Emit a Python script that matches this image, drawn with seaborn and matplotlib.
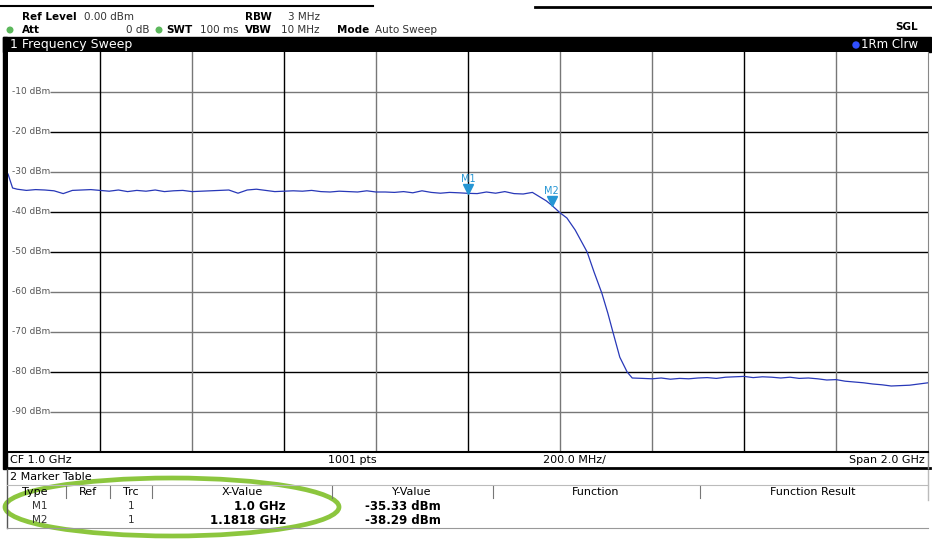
import matplotlib
matplotlib.use("Agg")
import matplotlib.pyplot as plt
from matplotlib.patches import Ellipse, Rectangle, Circle
import pandas as pd
import seaborn as sns

# trace (GHz, dBm)
freq_ghz = [0.00, 0.01, 0.02, 0.04, 0.06, 0.08, 0.10, 0.12, 0.14, 0.16,
            0.18, 0.20, 0.22, 0.24, 0.26, 0.28, 0.30, 0.32, 0.34, 0.36,
            0.38, 0.40, 0.42, 0.44, 0.46, 0.48, 0.50, 0.52, 0.54, 0.56,
            0.58, 0.60, 0.62, 0.64, 0.66, 0.68, 0.70, 0.72, 0.74, 0.76,
            0.78, 0.80, 0.82, 0.84, 0.86, 0.88, 0.90, 0.92, 0.94, 0.96,
            0.98, 1.00, 1.02, 1.04, 1.06, 1.08, 1.10, 1.12, 1.14, 1.16,
            1.17, 1.1818, 1.20, 1.215, 1.233, 1.259, 1.274, 1.291, 1.304, 1.315,
            1.330, 1.346, 1.357, 1.38, 1.40, 1.42, 1.44, 1.46, 1.48, 1.50,
            1.52, 1.54, 1.56, 1.58, 1.60, 1.62, 1.64, 1.66, 1.68, 1.70,
            1.72, 1.74, 1.76, 1.78, 1.80, 1.82, 1.84, 1.86, 1.88, 1.90,
            1.92, 1.94, 1.96, 1.98, 2.00]
level_dbm = [-30.5, -34.0, -34.3, -34.6, -34.4, -34.5, -34.7, -35.4, -34.6, -34.5,
             -34.4, -34.6, -34.8, -34.5, -34.9, -34.6, -34.8, -34.5, -34.9, -34.7,
             -34.6, -34.9, -34.8, -34.7, -34.6, -34.5, -35.3, -34.5, -34.3, -34.6,
             -34.9, -34.8, -34.7, -34.8, -34.6, -34.9, -35.0, -34.8, -34.9, -35.0,
             -34.7, -35.0, -35.0, -35.1, -34.9, -35.2, -34.7, -35.1, -35.3, -35.1,
             -35.2, -35.33, -35.4, -35.0, -35.3, -34.9, -35.4, -35.5, -35.1, -36.5,
             -37.2, -38.29, -40.2, -41.5, -44.5, -50.0, -55.0, -60.3, -65.3, -70.0,
             -76.3, -80.0, -81.5, -81.6, -81.7, -81.5, -81.8, -81.6, -81.7, -81.5,
             -81.4, -81.6, -81.3, -81.2, -81.1, -81.4, -81.2, -81.3, -81.5, -81.3,
             -81.6, -81.5, -81.7, -82.0, -81.9, -82.3, -82.5, -82.7, -83.0, -83.2,
             -83.5, -83.4, -83.3, -83.0, -82.7]

marker_names = ["M1", "M2"]
marker_freq = [1.0, 1.1818]
marker_level = [-35.33, -38.29]

ytick_vals = [-10, -20, -30, -40, -50, -60, -70, -80, -90]
ygrid_dark = [-20, -40, -50, -80]
xgrid_vals = [0.2, 0.4, 0.6, 0.8, 1.0, 1.2, 1.4, 1.6, 1.8]
xgrid_dark = [0.2, 0.6, 1.0, 1.6]

trace_col = "#2838b8"
mk_col = "#2596d4"

df = pd.DataFrame({"freq": freq_ghz, "level": level_dbm})

fig = plt.figure(figsize=(9.32, 5.47), dpi=100)
plt.rcParams['font.family'] = ['DejaVu Sans']

# full-figure pixel axes for the screen furniture
bg = fig.add_axes([0, 0, 1, 1])
bg.set_xlim(0, 932)
bg.set_ylim(547, 0)
bg.axis("off")

# header
hs = 7.5
bg.plot([0, 373], [6, 6], color="black", lw=1.5)
bg.plot([535, 932], [7, 7], color="black", lw=2)
bg.text(22, 17, "Ref Level", fontsize=hs, fontweight="bold", va="center")
bg.text(84, 17, "0.00 dBm", fontsize=hs, va="center", color="#333333")
bg.text(245, 17, "RBW", fontsize=hs, fontweight="bold", va="center")
bg.text(288, 17, "3 MHz", fontsize=hs, va="center", color="#333333")
bg.add_patch(Circle((10, 30), 2.8, color="#5cb85c"))
bg.text(22, 30, "Att", fontsize=hs, fontweight="bold", va="center")
bg.text(150, 30, "0 dB", fontsize=hs, va="center", ha="right", color="#333333")
bg.add_patch(Circle((159, 30), 2.8, color="#5cb85c"))
bg.text(166, 30, "SWT", fontsize=hs, fontweight="bold", va="center")
bg.text(200, 30, "100 ms", fontsize=hs, va="center", color="#333333")
bg.text(245, 30, "VBW", fontsize=hs, fontweight="bold", va="center")
bg.text(281, 30, "10 MHz", fontsize=hs, va="center", color="#333333")
bg.text(337, 30, "Mode", fontsize=hs, fontweight="bold", va="center")
bg.text(375, 30, "Auto Sweep", fontsize=hs, va="center", color="#333333")
bg.text(918, 27, "SGL", fontsize=7.5, fontweight="bold", va="center", ha="right")

# title bar
bg.add_patch(Rectangle((3, 37), 928, 15, color="black"))
bg.text(10, 44.5, "1 Frequency Sweep", fontsize=9, color="white", va="center")
bg.add_patch(Circle((856, 45), 3, color="#3050ff"))
bg.text(918, 44.5, "1Rm Clrw", fontsize=8.5, color="white", va="center", ha="right")

# left thick border
bg.add_patch(Rectangle((3, 37), 4, 432, color="black"))

# status row and marker table
bg.plot([7, 930], [468, 468], color="black", lw=2)
bg.plot([928, 928], [452, 468], color="#888888", lw=1)
bg.text(10, 460, "CF 1.0 GHz", fontsize=8, va="center")
bg.text(328, 460, "1001 pts", fontsize=8, va="center")
bg.text(543, 460, "200.0 MHz/", fontsize=8, va="center")
bg.text(925, 460, "Span 2.0 GHz", fontsize=8, va="center", ha="right")

bg.plot([7, 7], [469, 528], color="#555555", lw=1)
bg.plot([928, 928], [470, 500], color="#bbbbbb", lw=1)
bg.plot([7, 928], [485, 485], color="#bbbbbb", lw=0.8)
bg.plot([7, 928], [528, 528], color="#999999", lw=0.8)
bg.text(10, 477, "2 Marker Table", fontsize=8, va="center")
for xs in [66, 110, 152, 332, 493, 700]:
    bg.plot([xs, xs], [486, 498], color="#777777", lw=0.8)
headers = [("Type", 35), ("Ref", 88), ("Trc", 131), ("X-Value", 242),
           ("Y-Value", 412), ("Function", 596), ("Function Result", 813)]
for label, xc in headers:
    bg.text(xc, 492, label, fontsize=8, va="center", ha="center")
rows_x = ["1.0 GHz", "1.1818 GHz"]
rows_y = ["-35.33 dBm", "-38.29 dBm"]
for i, name in enumerate(marker_names):
    yy = 506 + i * 14
    bg.text(32, yy, name, fontsize=7.5, va="center", color="#333333")
    bg.text(131, yy, "1", fontsize=7.5, va="center", ha="center", color="#333333")
    bg.text(286, yy, rows_x[i], fontsize=8.5, va="center", ha="right", fontweight="bold")
    bg.text(365, yy, rows_y[i], fontsize=8.5, va="center", fontweight="bold")

bg.add_patch(Ellipse((172, 507), 334, 58, fill=False, ec="#8cc63e", lw=3.4))

# spectrum axes
ax = fig.add_axes([8 / 932, (547 - 452) / 547, 920 / 932, 400 / 547])
ax.set_xlim(0, 2)
ax.set_ylim(-100, 0)
ax.set_xticks([])
ax.set_yticks([])
ax.spines["top"].set_visible(False)
ax.spines["left"].set_visible(False)
ax.spines["bottom"].set_color("black")
ax.spines["bottom"].set_linewidth(1.5)
ax.spines["right"].set_color("#888888")

# grid lines start right after the in-plot level labels
for v in ytick_vals:
    c = "black" if v in ygrid_dark else "#777777"
    ax.hlines(v, 0.092, 2, color=c, lw=1, zorder=1)
    ax.text(0.009, v, f"{v} dBm", fontsize=6.5, color="#555555", va="center",
            ha="left", zorder=2)
for v in xgrid_vals:
    c = "black" if v in xgrid_dark else "#777777"
    ax.axvline(v, color=c, lw=1, zorder=1)

sns.lineplot(data=df, x="freq", y="level", color=trace_col, lw=0.9, ax=ax, zorder=3)
ax.set_xlabel("")
ax.set_ylabel("")

for name, f, lv in zip(marker_names, marker_freq, marker_level):
    ax.plot(f, lv + 1.1, marker="v", color=mk_col, markersize=6.5, zorder=4)
    ax.text(f, lv + 3.6, name, fontsize=7, color=mk_col, ha="center", va="center", zorder=4)

# marker readout top right
info = [("M2[1]", "-38.29 dBm", "1.18180 GHz"), ("M1[1]", "-35.33 dBm", "1.00000 GHz")]
for i, (n, lvl, fq) in enumerate(info):
    y0 = 61 + i * 33
    bg.text(803, y0, n, fontsize=8.5, color=mk_col, va="center", zorder=10)
    bg.text(926, y0, lvl, fontsize=8.5, color=mk_col, va="center", ha="right", zorder=10)
    bg.text(926, y0 + 16, fq, fontsize=8.5, color=mk_col, va="center", ha="right", zorder=10)

fig.savefig("out.png", dpi=100)
